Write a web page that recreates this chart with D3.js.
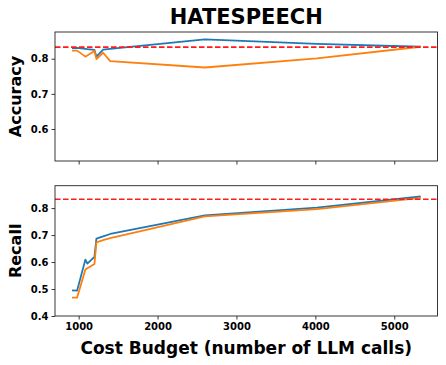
<!DOCTYPE html>
<html><head><meta charset="utf-8">
<script src="https://cdn.jsdelivr.net/npm/d3@7"></script>
<style>
html,body{margin:0;padding:0;background:#fff;}
svg{display:block;font-family:"DejaVu Sans",sans-serif;}
</style></head>
<body>
<svg id="chart" width="446" height="365"></svg>
<script>
const title = "HATESPEECH";
const budgets = [915, 980, 1085, 1110, 1200, 1225, 1310, 1400, 2600, 4020, 5335];
const accuracyA = [0.830, 0.831, 0.828, 0.827, 0.825, 0.806, 0.826, 0.828, 0.855, 0.842, 0.834];
const accuracyB = [0.823, 0.823, 0.806, 0.809, 0.822, 0.799, 0.817, 0.793, 0.775, 0.801, 0.834];
const recallA = [0.495, 0.494, 0.609, 0.594, 0.619, 0.687, 0.695, 0.704, 0.773, 0.802, 0.843];
const recallB = [0.468, 0.468, 0.572, 0.577, 0.593, 0.673, 0.681, 0.689, 0.769, 0.796, 0.838];
const baseline = 0.833;
const xTicks = [1000, 2000, 3000, 4000, 5000];
const accTicks = [0.6, 0.7, 0.8];
const recTicks = [0.4, 0.5, 0.6, 0.7, 0.8];

const svg = d3.select("#chart");
const left = 55, right = 437.5;
const x = d3.scaleLinear().domain([700, 5548]).range([left, right]);

function panel(top, bottom, domain, ticks, ylabel, s1, s2, showXLabels) {
  const y = d3.scaleLinear().domain(domain).range([bottom, top]);
  const g = svg.append("g");
  const line = d3.line().x((d, i) => x(budgets[i])).y(d => y(d));
  g.append("path").datum(s1).attr("d", line).attr("fill", "none")
    .attr("stroke", "#1f77b4").attr("stroke-width", 1.8).attr("stroke-linejoin", "round");
  g.append("path").datum(s2).attr("d", line).attr("fill", "none")
    .attr("stroke", "#ff7f0e").attr("stroke-width", 1.8).attr("stroke-linejoin", "round");
  g.append("line").attr("x1", left).attr("x2", right)
    .attr("y1", y(baseline)).attr("y2", y(baseline))
    .attr("stroke", "#ff1a1a").attr("stroke-width", 1.6).attr("stroke-dasharray", "5.5,2.5");
  g.append("rect").attr("x", left).attr("y", top).attr("width", right - left).attr("height", bottom - top)
    .attr("fill", "none").attr("stroke", "#222").attr("stroke-width", 0.9);
  const ax = g.append("g").attr("transform", `translate(0,${bottom})`)
    .call(d3.axisBottom(x).tickValues(xTicks).tickSize(3.5).tickPadding(3)
      .tickFormat(showXLabels ? d3.format("d") : () => ""));
  const ay = g.append("g").attr("transform", `translate(${left},0)`)
    .call(d3.axisLeft(y).tickValues(ticks).tickSize(3.5).tickPadding(3).tickFormat(d3.format(".1f")));
  [ax, ay].forEach(a => {
    a.select(".domain").remove();
    a.selectAll("line").attr("stroke", "#222").attr("stroke-width", 0.9);
    a.selectAll("text").attr("fill", "#000").style("font-size", "10px").style("font-weight", "bold")
      .style("font-family", "DejaVu Sans");
  });
  g.append("text").attr("transform", `translate(20.5,${(top + bottom) / 2}) rotate(-90)`)
    .attr("text-anchor", "middle").style("font-size", "16px").style("font-weight", "bold")
    .text(ylabel);
}

panel(32, 161, [0.509, 0.876], accTicks, "Accuracy", accuracyA, accuracyB, false);
panel(185.7, 316, [0.4, 0.883], recTicks, "Recall", recallA, recallB, true);

svg.append("text").attr("x", (left + right) / 2).attr("y", 24).attr("text-anchor", "middle")
  .style("font-size", "21px").style("font-weight", "bold").text(title);
svg.append("text").attr("x", (left + right) / 2).attr("y", 353.5).attr("text-anchor", "middle")
  .style("font-size", "17px").style("font-weight", "bold").text("Cost Budget (number of LLM calls)");
</script>
</body></html>
